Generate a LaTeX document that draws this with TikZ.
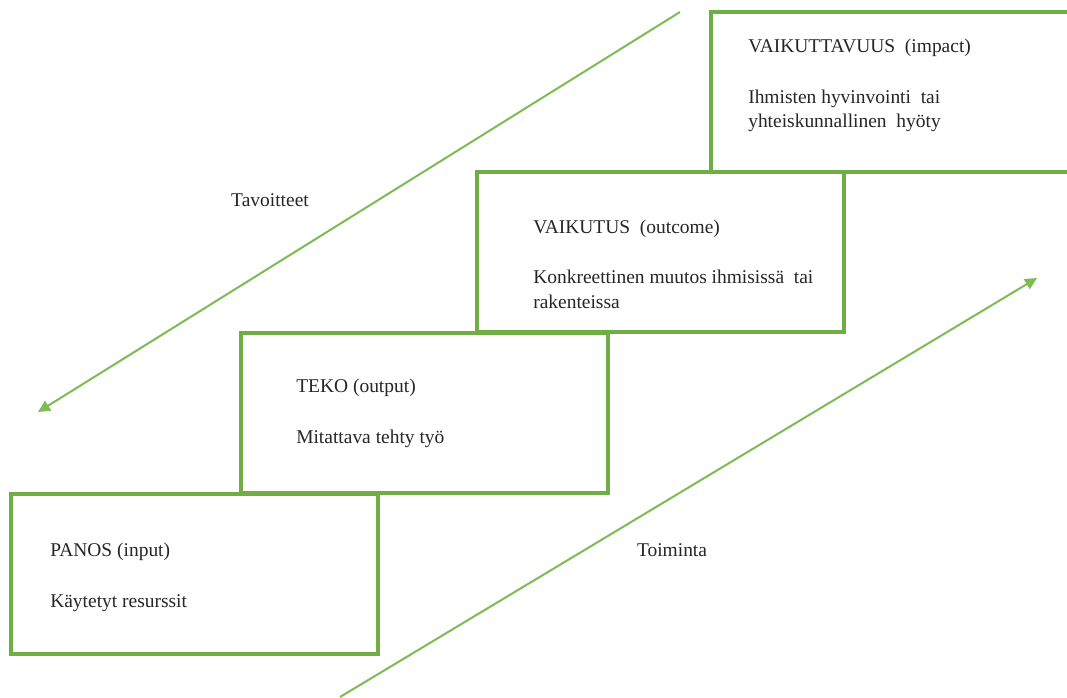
\documentclass[tikz,border=0pt]{standalone}
\usepackage{fontspec}
\setmainfont{Liberation Serif}
\usetikzlibrary{arrows.meta}
\definecolor{boxgreen}{HTML}{70AD47}
\definecolor{arrowgreen}{HTML}{7DBB55}
\begin{document}
\begin{tikzpicture}[x=0.75pt,y=-0.75pt,
  stepbox/.style={draw=boxgreen,line width=3pt,minimum width=367*0.75pt,minimum height=160*0.75pt,anchor=north west,inner sep=0pt,outer sep=0pt},
  lbl/.style={anchor=base west,inner sep=0pt,font=\fontsize{14.6}{18.6}\selectfont,text=black!85},
  flow/.style={draw=arrowgreen,line width=1.5pt,-{Triangle[length=9pt,width=8.5pt]}}]
\clip (0,0) rectangle (1067,697);
\fill[white] (0,0) rectangle (1067,697);
% boxes
\node[stepbox] (panos) at (11,494) {};
\node[stepbox] (teko) at (241,333) {};
\node[stepbox] (vaikutus) at (477,172) {};
\node[stepbox,minimum width=400*0.75pt] (vaikuttavuus) at (711,12) {};
% texts
\node[lbl] (t1a) at (50,556) {PANOS (input)};
\node[lbl] (t1b) at (50,607) {Käytetyt resurssit};
\node[lbl] (t2a) at (296,392) {TEKO (output)};
\node[lbl] (t2b) at (296,443) {Mitattava tehty työ};
\node[lbl] (t3a) at (533,233) {VAIKUTUS\ \ (outcome)};
\node[lbl] (t3b) at (533,283) {Konkreettinen\ muutos ihmisissä\ \ tai};
\node[lbl] (t3c) at (533,308) {rakenteissa};
\node[lbl] (t4a) at (748,52) {VAIKUTTAVUUS\ \ (impact)};
\node[lbl] (t4b) at (748,103) {Ihmisten hyvinvointi\ \ tai};
\node[lbl] (t4c) at (748,127) {yhteiskunnallinen\ \ hyöty};
% arrows
\coordinate (g1s) at (680,12);
\coordinate (g1e) at (38,412);
\coordinate (g2s) at (340,697);
\coordinate (g2e) at (1037,278);
\draw[flow] (g1s) -- (g1e);
\draw[flow] (g2s) -- (g2e);
\node[lbl,anchor=center] (tav) at (270,200) {Tavoitteet};
\node[lbl,anchor=center] (toim) at (672,550) {Toiminta};
\end{tikzpicture}
\end{document}
